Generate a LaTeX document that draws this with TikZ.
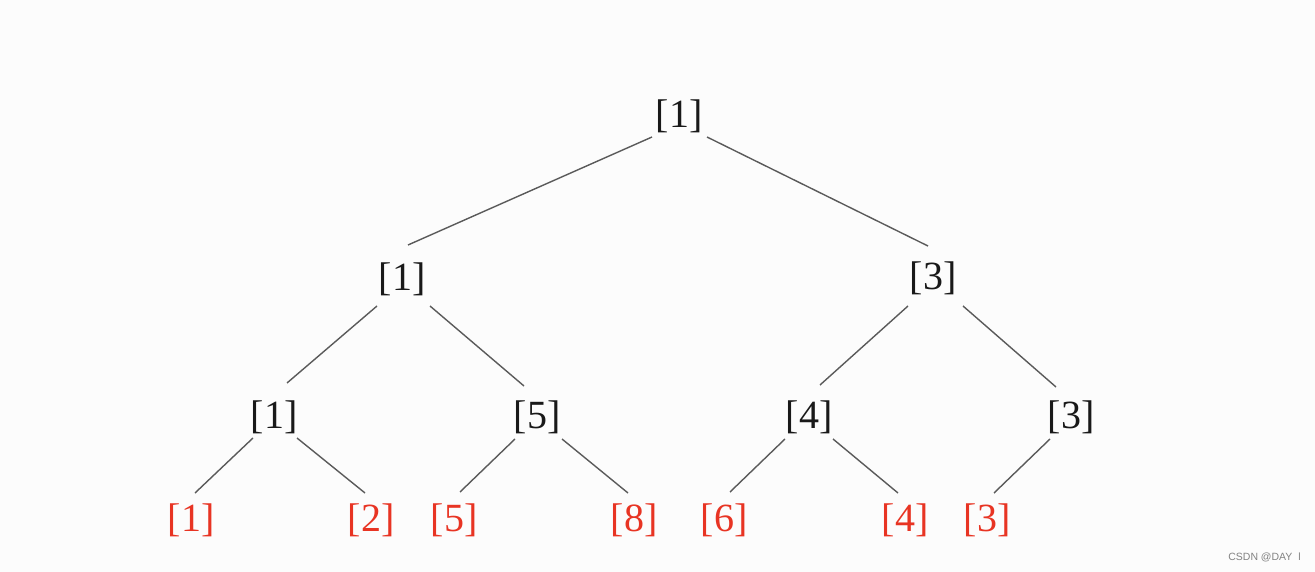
\documentclass[tikz,border=0pt]{standalone}
\usepackage{fontspec}
\setmainfont{Liberation Serif}
\newfontfamily\wmfont{Liberation Sans}
\definecolor{edgegray}{RGB}{90,90,90}
\definecolor{leafred}{RGB}{232,52,35}
\definecolor{inkblack}{RGB}{25,25,25}
\definecolor{bgwhite}{RGB}{252,252,252}
\definecolor{wmgray}{RGB}{130,130,130}
\begin{document}
\begin{tikzpicture}[x=1pt,y=-1pt,
  tnode/.style={inner sep=0pt,text=inkblack,font=\fontsize{40}{48}\selectfont},
  leaf/.style={tnode,text=leafred},
  link/.style={draw=edgegray,line width=1.4pt}]
\fill[bgwhite] (0,0) rectangle (1315,572);
\useasboundingbox (0,0) rectangle (1315,572);
% nodes
\node[tnode] (root) at (679,116) {[1]};
\node[tnode] (a) at (402,279) {[1]};
\node[tnode] (b) at (933,278) {[3]};
\node[tnode] (c) at (274,417) {[1]};
\node[tnode] (d) at (537,417) {[5]};
\node[tnode] (e) at (809,417) {[4]};
\node[tnode] (f) at (1071,417) {[3]};
\node[leaf] (r1) at (191,520) {[1]};
\node[leaf] (r2) at (371,520) {[2]};
\node[leaf] (r3) at (454,520) {[5]};
\node[leaf] (r4) at (634,520) {[8]};
\node[leaf] (r5) at (724,520) {[6]};
\node[leaf] (r6) at (905,520) {[4]};
\node[leaf] (r7) at (987,520) {[3]};
% edges
\draw[link] ([shift={(-27,21)}]root.center) -- ([shift={(6,-34)}]a.center);
\draw[link] ([shift={(28,21)}]root.center) -- ([shift={(-5,-32)}]b.center);
\draw[link] ([shift={(-25,27)}]a.center) -- ([shift={(13,-34)}]c.center);
\draw[link] ([shift={(28,27)}]a.center) -- ([shift={(-13,-31)}]d.center);
\draw[link] ([shift={(-25,28)}]b.center) -- ([shift={(11,-32)}]e.center);
\draw[link] ([shift={(30,28)}]b.center) -- ([shift={(-15,-30)}]f.center);
\draw[link] ([shift={(-21,21)}]c.center) -- ([shift={(4,-27)}]r1.center);
\draw[link] ([shift={(23,21)}]c.center) -- ([shift={(-6,-27)}]r2.center);
\draw[link] ([shift={(-22,22)}]d.center) -- ([shift={(6,-28)}]r3.center);
\draw[link] ([shift={(25,22)}]d.center) -- ([shift={(-6,-27)}]r4.center);
\draw[link] ([shift={(-24,22)}]e.center) -- ([shift={(6,-28)}]r5.center);
\draw[link] ([shift={(24,22)}]e.center) -- ([shift={(-7,-27)}]r6.center);
\draw[link] ([shift={(-21,22)}]f.center) -- ([shift={(7,-27)}]r7.center);
% watermark
\node[anchor=east,inner sep=0pt,text=wmgray,font=\wmfont\fontsize{10.5}{12}\selectfont] (wm) at (1301,557) {CSDN @DAY\hspace{6pt}l};
\end{tikzpicture}
\end{document}
